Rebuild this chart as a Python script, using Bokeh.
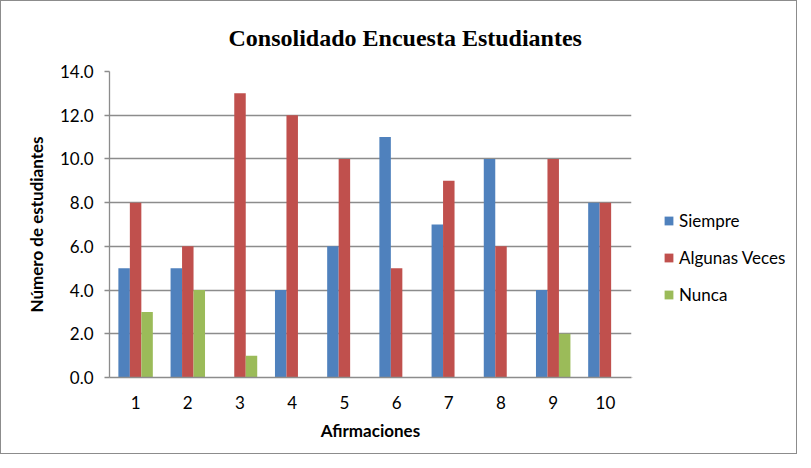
from bokeh.plotting import figure
from bokeh.layouts import row
from bokeh.models import ColumnDataSource, Range1d, Legend, LegendItem, FixedTicker, PrintfTickFormatter
from bokeh.transform import dodge
from bokeh.embed import file_html
from bokeh.resources import INLINE

categories = ["1", "2", "3", "4", "5", "6", "7", "8", "9", "10"]
siempre = [5, 5, 0, 4, 6, 11, 7, 10, 4, 8]
algunas_veces = [8, 6, 13, 12, 10, 5, 9, 6, 10, 8]
nunca = [3, 4, 1, 0, 0, 0, 0, 0, 2, 0]
series_names = ["Siempre", "Algunas Veces", "Nunca"]
series_colors = ["#4F81BD", "#C0504D", "#9BBB59"]
y_ticks = [0, 2, 4, 6, 8, 10, 12, 14]

source = ColumnDataSource(dict(cat=categories, siempre=siempre, algunas=algunas_veces, nunca=nunca))

FONT = "Lato"
FS = "17px"
GRID = "#8C8C8C"

p = figure(width=631, height=452, x_range=categories, y_range=Range1d(0, 14),
           output_backend="svg", toolbar_location=None,
           min_border_left=108, min_border_right=1, min_border_top=60, min_border_bottom=76)
p.outline_line_color = None
p.background_fill_color = "white"
p.border_fill_color = "white"

for col, off, color in zip(["siempre", "algunas", "nunca"], [-0.22, 0.0, 0.22], series_colors):
    p.vbar(x=dodge("cat", off, range=p.x_range), top=col, bottom=0, width=0.22,
           source=source, fill_color=color, line_color=None)

# title
p.title.text = "Consolidado Encuesta Estudiantes"
p.title.text_font = "Liberation Serif"
p.title.text_font_style = "bold"
p.title.text_font_size = "24px"
p.title.text_color = "black"
p.title.align = "left"
p.title.offset = 119
p.title.standoff = 42

# grid
p.xgrid.grid_line_color = None
p.ygrid.grid_line_color = GRID
p.ygrid.grid_line_width = 1.3
p.ygrid.ticker = FixedTicker(ticks=y_ticks)

# y axis
p.yaxis.ticker = FixedTicker(ticks=y_ticks)
p.yaxis.formatter = PrintfTickFormatter(format="%.1f")
p.yaxis.axis_line_color = GRID
p.yaxis.axis_line_width = 1.3
p.yaxis.major_tick_line_color = GRID
p.yaxis.major_tick_line_width = 1.3
p.yaxis.major_tick_out = 5
p.yaxis.major_tick_in = 0
p.yaxis.minor_tick_line_color = None
p.yaxis.major_label_standoff = 11
p.yaxis.major_label_text_font = FONT
p.yaxis.major_label_text_font_size = FS
p.yaxis.major_label_text_color = "black"
p.yaxis.axis_label = "Número de estudiantes"
p.yaxis.axis_label_text_font = FONT
p.yaxis.axis_label_text_font_size = FS
p.yaxis.axis_label_text_font_style = "bold"
p.yaxis.axis_label_text_color = "black"
p.yaxis.axis_label_standoff = 10

# x axis
p.xaxis.axis_line_color = GRID
p.xaxis.axis_line_width = 1.3
p.xaxis.major_tick_line_color = None
p.xaxis.minor_tick_line_color = None
p.xaxis.major_label_standoff = 12
p.xaxis.major_label_text_font = FONT
p.xaxis.major_label_text_font_size = FS
p.xaxis.major_label_text_color = "black"
p.xaxis.axis_label = "Afirmaciones"
p.xaxis.axis_label_text_font = FONT
p.xaxis.axis_label_text_font_size = FS
p.xaxis.axis_label_text_font_style = "bold"
p.xaxis.axis_label_text_color = "black"
p.xaxis.axis_label_standoff = 8

# legend panel (separate figure on the right)
lp = figure(width=164, height=452, x_range=Range1d(0, 1), y_range=Range1d(0, 1),
            x_axis_type=None, y_axis_type=None, output_backend="svg", toolbar_location=None,
            min_border=0)
lp.outline_line_color = None
lp.xgrid.visible = False
lp.ygrid.visible = False
legend_renderers = []
for color in series_colors:
    legend_renderers.append(lp.vbar(x=[-10], top=[-10], bottom=[-11], width=0.1,
                                    fill_color=color, line_color=None))

legend = Legend(items=[LegendItem(label=n, renderers=[r]) for n, r in zip(series_names, legend_renderers)],
                location=(31, 72), orientation="vertical")
legend.border_line_color = None
legend.background_fill_alpha = 0
legend.padding = 0
legend.margin = 0
legend.spacing = 16
legend.glyph_width = 11
legend.glyph_height = 11
legend.label_height = 20
legend.label_standoff = 5
legend.label_text_font = FONT
legend.label_text_font_size = FS
legend.label_text_color = "black"
lp.add_layout(legend, "center")

layout = row(p, lp, spacing=0)
layout.styles = {"border": "1px solid #8C8C8C"}

open("out.html", "w").write(file_html(layout, INLINE))
